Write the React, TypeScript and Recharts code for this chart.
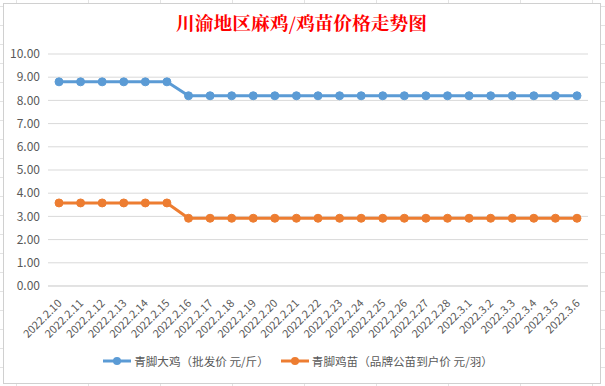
import React from 'react';
import { LineChart, Line, XAxis, YAxis, CartesianGrid, Legend } from 'recharts';

const categories = [
  '2022.2.10', '2022.2.11', '2022.2.12', '2022.2.13', '2022.2.14', '2022.2.15', '2022.2.16',
  '2022.2.17', '2022.2.18', '2022.2.19', '2022.2.20', '2022.2.21', '2022.2.22', '2022.2.23',
  '2022.2.24', '2022.2.25', '2022.2.26', '2022.2.27', '2022.2.28', '2022.3.1', '2022.3.2',
  '2022.3.3', '2022.3.4', '2022.3.5', '2022.3.6',
];
const chickenPrice = [8.8, 8.8, 8.8, 8.8, 8.8, 8.8, 8.2, 8.2, 8.2, 8.2, 8.2, 8.2, 8.2, 8.2, 8.2, 8.2, 8.2, 8.2, 8.2, 8.2, 8.2, 8.2, 8.2, 8.2, 8.2];
const chickPrice = [3.58, 3.58, 3.58, 3.58, 3.58, 3.58, 2.92, 2.92, 2.92, 2.92, 2.92, 2.92, 2.92, 2.92, 2.92, 2.92, 2.92, 2.92, 2.92, 2.92, 2.92, 2.92, 2.92, 2.92, 2.92];
const yTicks = [0, 1, 2, 3, 4, 5, 6, 7, 8, 9, 10];
const seriesNames = ['青脚大鸡（批发价 元/斤）', '青脚鸡苗（品牌公苗到户价 元/羽）'];
const title = '川渝地区麻鸡/鸡苗价格走势图';

const data = categories.map((c, i) => ({ date: c, a: chickenPrice[i], b: chickPrice[i] }));

const FONT = '"Noto Sans CJK SC", "Noto Sans", sans-serif';

const XTick = (props: any) => {
  const { x, y, payload } = props;
  return (
    <g transform={`translate(${x + 3.5},${y + 10})`}>
      <text textAnchor="end" transform="rotate(-45)" fontSize={11} fill="#595959" fontFamily={FONT}>
        {payload.value}
      </text>
    </g>
  );
};

export default function App() {
  return (
    <div
      style={{
        position: 'absolute',
        left: 0,
        top: 0,
        width: 605,
        height: 386,
        background: '#fff',
        backgroundImage:
          'repeating-linear-gradient(90deg, transparent 0 16px, #e3e3e3 16px 17px, transparent 17px 72px), repeating-linear-gradient(0deg, transparent 0 18px, #e3e3e3 18px 19px)',
      }}
    >
      <div
        style={{
          position: 'absolute',
          left: 3,
          top: 3,
          width: 596,
          height: 379,
          background: '#fff',
          border: '1px solid #d0d0d0',
        }}
      />
      <svg width={605} height={45} style={{ position: 'absolute', left: 0, top: 0 }}>
        <text
          x={176}
          y={30}
          textLength={251}
          lengthAdjust="spacingAndGlyphs"
          fill="#ff0000"
          fontSize={18}
          fontWeight="bold"
          fontFamily='"Noto Serif CJK SC", "Noto Sans CJK SC", serif'
        >
          {title}
        </text>
      </svg>
      <div style={{ position: 'absolute', left: 0, top: 0 }}>
        <LineChart width={605} height={386} data={data} margin={{ top: 54, right: 17, bottom: 9, left: 0 }}>
          <CartesianGrid vertical={false} stroke="#d9d9d9" strokeWidth={1} />
          <XAxis
            dataKey="date"
            interval={0}
            tick={<XTick />}
            tickLine={false}
            axisLine={{ stroke: '#d9d9d9' }}
            padding={{ left: 11, right: 11 }}
            height={67}
          />
          <YAxis
            domain={[0, 10]}
            ticks={yTicks}
            tickFormatter={(v: number) => v.toFixed(2)}
            tickLine={false}
            axisLine={false}
            width={48}
            tick={{ fontSize: 12, fill: '#595959', fontFamily: FONT }}
          />
          <Legend
            verticalAlign="bottom"
            height={24}
            content={() => (
              <div
                style={{
                  display: 'flex',
                  justifyContent: 'center',
                  gap: 12,
                  fontSize: 11.6,
                  color: '#595959',
                  fontFamily: FONT,
                  paddingLeft: 8,
                }}
              >
                {[
                  { name: seriesNames[0], color: '#5b9bd5' },
                  { name: seriesNames[1], color: '#ed7d31' },
                ].map((s) => (
                  <div key={s.name} style={{ display: 'flex', alignItems: 'center' }}>
                    <svg width={28} height={10} style={{ marginRight: 3 }}>
                      <line x1={0} y1={5} x2={28} y2={5} stroke={s.color} strokeWidth={3} />
                      <circle cx={14} cy={5} r={4} fill={s.color} />
                    </svg>
                    <span>{s.name}</span>
                  </div>
                ))}
              </div>
            )}
          />
          <Line
            type="linear"
            dataKey="a"
            name={seriesNames[0]}
            stroke="#5b9bd5"
            strokeWidth={3}
            dot={{ r: 4, fill: '#5b9bd5', stroke: '#5b9bd5', strokeWidth: 1 }}
            isAnimationActive={false}
          />
          <Line
            type="linear"
            dataKey="b"
            name={seriesNames[1]}
            stroke="#ed7d31"
            strokeWidth={3}
            dot={{ r: 4, fill: '#ed7d31', stroke: '#ed7d31', strokeWidth: 1 }}
            isAnimationActive={false}
          />
        </LineChart>
      </div>
    </div>
  );
}
